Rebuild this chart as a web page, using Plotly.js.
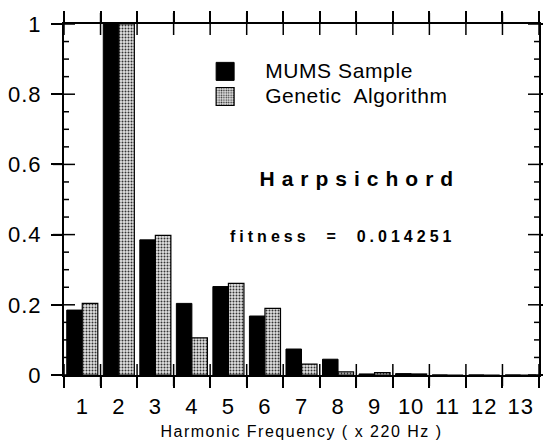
<!DOCTYPE html>
<html>
<head>
<meta charset="utf-8">
<script src="https://cdn.plot.ly/plotly-3.0.1.min.js"></script>
<style>
  html, body { margin: 0; padding: 0; background: #fff; }
  #chart { width: 543px; height: 440px; }
  .xtick text, .ytick text { letter-spacing: 1px; }
  .legendtext { letter-spacing: 0.6px; font-size: 21px !important; }
  .annotation[data-index="0"] text { letter-spacing: 7px; }
  .annotation[data-index="1"] text { letter-spacing: 4px; }
  .g-xtitle text { letter-spacing: 1.5px; }
</style>
</head>
<body>
<div id="chart"></div>
<script>
// Data
const harmonics = ['1','2','3','4','5','6','7','8','9','10','11','12','13'];
const mumsSample = [0.185, 1.0, 0.385, 0.204, 0.252, 0.168, 0.074, 0.045, 0.003, 0.004, 0, 0, 0];
const geneticAlgorithm = [0.204, 1.0, 0.398, 0.106, 0.261, 0.19, 0.031, 0.009, 0.007, 0.003, 0, 0, 0];
const instrument = 'Harpsichord';
const fitnessText = 'fitness  =  0.014251';

// Axis decoration: crossing tick positions (category boundaries and y majors/minors)
const xBoundaries = [-0.5, 0.5, 1.5, 2.5, 3.5, 4.5, 5.5, 6.5, 7.5, 8.5, 9.5, 10.5, 11.5, 12.5];
const yMajorTicks = [0, 0.2, 0.4, 0.6, 0.8, 1];
const yMinorTicks = [0.05, 0.1, 0.15, 0.25, 0.3, 0.35, 0.45, 0.5, 0.55, 0.65, 0.7, 0.75, 0.85, 0.9, 0.95];

const FONT = '"Liberation Sans", Arial, Helvetica, sans-serif';

function tickLine() { return { color: '#000000', width: 1.5 }; }

const traces = [
  {
    type: 'bar', name: 'MUMS Sample', x: harmonics, y: mumsSample,
    marker: { color: '#000000', line: { color: '#000000', width: 1 } }
  },
  {
    type: 'bar', name: 'Genetic\u00a0 Algorithm', x: harmonics, y: geneticAlgorithm,
    marker: {
      color: '#cfcfcf',
      line: { color: '#000000', width: 1.2 },
      pattern: { shape: '.', fgcolor: '#333333', bgcolor: '#e2e2e2', size: 3, solidity: 0.35 }
    }
  }
];

const shapes = [];
// crossing ticks at the category boundaries, bottom and top
xBoundaries.forEach(function (b) {
  [0, 1].forEach(function (anchor) {
    shapes.push({ type: 'line', layer: 'above', xref: 'x', yref: 'paper', ysizemode: 'pixel', yanchor: anchor,
      x0: b, x1: b, y0: -11, y1: 11, line: tickLine() });
  });
});
// crossing major ticks, left and right
yMajorTicks.forEach(function (v) {
  [0, 1].forEach(function (anchor) {
    shapes.push({ type: 'line', layer: 'above', xref: 'paper', yref: 'y', xsizemode: 'pixel', xanchor: anchor,
      x0: -11, x1: 11, y0: v, y1: v, line: tickLine() });
  });
});
// minor ticks, pointing inward on both sides
yMinorTicks.forEach(function (v) {
  shapes.push({ type: 'line', layer: 'above', xref: 'paper', yref: 'y', xsizemode: 'pixel', xanchor: 0,
    x0: 0, x1: 5, y0: v, y1: v, line: tickLine() });
  shapes.push({ type: 'line', layer: 'above', xref: 'paper', yref: 'y', xsizemode: 'pixel', xanchor: 1,
    x0: -5, x1: 0, y0: v, y1: v, line: tickLine() });
});

const layout = {
  width: 543, height: 440,
  margin: { l: 64, r: 4, t: 24, b: 65 },
  paper_bgcolor: '#ffffff', plot_bgcolor: '#ffffff',
  font: { family: FONT, color: '#000000' },
  barmode: 'group', bargap: 0.15, bargroupgap: 0,
  showlegend: true,
  legend: {
    x: 0.255, y: 0.915, xanchor: 'left', yanchor: 'top',
    bgcolor: 'rgba(0,0,0,0)', font: { family: FONT, size: 17, color: '#000' },
    itemwidth: 70, tracegroupgap: 0
  },
  xaxis: {
    type: 'category', tickson: 'boundaries', range: [-0.5, 12.5],
    ticks: 'outside', ticklen: 11, tickwidth: 1.5, tickcolor: '#000',
    showline: true, linewidth: 2, linecolor: '#000', mirror: 'ticks',
    showgrid: false, zeroline: false,
    tickfont: { family: FONT, size: 22, color: '#000' },
    ticklabelstandoff: 11,
    title: { text: 'Harmonic Frequency ( x 220 Hz )', font: { family: FONT, size: 16, color: '#000' }, standoff: 8 }
  },
  yaxis: {
    range: [0, 1], tickmode: 'array', tickvals: yMajorTicks,
    ticks: 'outside', ticklen: 11, tickwidth: 1.5, tickcolor: '#000',
    showline: true, linewidth: 2, linecolor: '#000', mirror: 'ticks',
    showgrid: false, zeroline: false,
    tickfont: { family: FONT, size: 22, color: '#000' },
    ticklabelstandoff: 5
  },
  shapes: shapes,
  annotations: [
    {
      text: '<b>' + instrument + '</b>', xref: 'paper', yref: 'paper',
      x: 0.488, y: 0.56, xanchor: 'left', yanchor: 'middle', showarrow: false,
      font: { family: FONT, size: 21, color: '#000' }
    },
    {
      text: '<b>' + fitnessText + '</b>', xref: 'paper', yref: 'paper',
      x: 0.43, y: 0.395, xanchor: 'left', yanchor: 'middle', showarrow: false,
      font: { family: FONT, size: 16, color: '#000' }
    }
  ]
};

Plotly.newPlot('chart', traces, layout, { displayModeBar: false }).then(function (gd) {
  // enlarge the legend swatches to match the reference's bigger squares
  gd.querySelectorAll('.legend path.legendbar, .legend path.legendundefined').forEach(function (p) {
    p.setAttribute('d', 'M9,9H-9V-9H9Z');
  });
});
</script>
</body>
</html>
